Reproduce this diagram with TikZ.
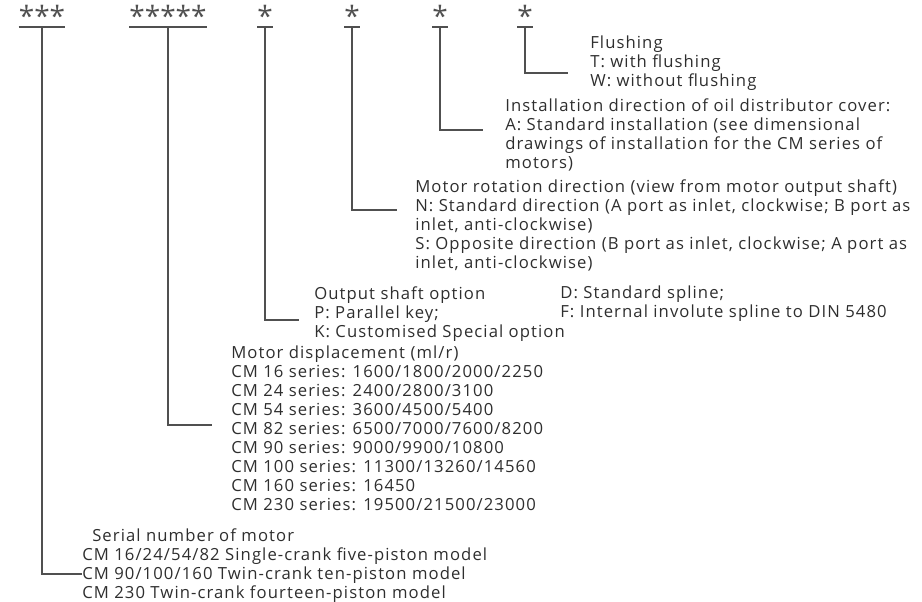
\documentclass[tikz,border=0pt]{standalone}
\usepackage{fontspec}
\setmainfont{Open Sans}[LetterSpace=6.5]
\newfontfamily\starfont{Open Sans}
\definecolor{testo}{HTML}{2E2E2E}
\definecolor{linea}{HTML}{505050}

\begin{document}
\begin{tikzpicture}[x=0.75pt,y=-0.75pt,
  stella/.style={font=\starfont\fontsize{21}{21}\selectfont,text=linea,inner sep=0pt,anchor=north},
  voce/.style={font=\fontsize{12.5}{14.25}\selectfont,text=testo,align=left,inner sep=0pt,anchor=north west},
  filo/.style={linea,line width=1.4pt}]
  \useasboundingbox (0,0) rectangle (922,602);

  % asterischi
  \node[stella] (s1) at (42,5) {***};
  \node[stella] (s2) at (168,5) {*****};
  \node[stella] (s3) at (265,5) {*};
  \node[stella] (s4) at (352,5) {*};
  \node[stella] (s5) at (440,5) {*};
  \node[stella] (s6) at (525,5) {*};

  % testi
  \node[voce] (flush) at (590,36) {Flushing\\T: with flushing\\W: without flushing};
  \node[voce] (inst) at (505,98) {Installation direction of oil distributor cover:\\
    A: Standard installation (see dimensional\\
    drawings of installation for the CM series of\\
    motors)};
  \node[voce] (rot) at (415,179) {Motor rotation direction (view from motor output shaft)\\
    N: Standard direction (A port as inlet, clockwise; B port as\\
    inlet, anti-clockwise)\\
    S: Opposite direction (B port as inlet, clockwise; A port as\\
    inlet, anti-clockwise)};
  \node[voce] (shaft) at (314,286) {Output shaft option\\P: Parallel key;\\K: Customised Special option};
  \node[voce] (spline) at (560,286) {D: Standard spline;\\F: Internal involute spline to DIN 5480};
  \node[voce] (disp) at (231,346) {Motor displacement (ml/r)\\
    CM 16 series: 1600/1800/2000/2250\\
    CM 24 series: 2400/2800/3100\\
    CM 54 series: 3600/4500/5400\\
    CM 82 series: 6500/7000/7600/8200\\
    CM 90 series: 9000/9900/10800\\
    CM 100 series: 11300/13260/14560\\
    CM 160 series: 16450\\
    CM 230 series: 19500/21500/23000};
  \node[voce] (serial) at (82,528) {\hspace*{7.5pt}Serial number of motor\\
    CM 16/24/54/82 Single-crank five-piston model\\
    CM 90/100/160 Twin-crank ten-piston model\\
    CM 230 Twin-crank fourteen-piston model};

  % sottolineature
  \coordinate (u1) at (42,27);
  \coordinate (u2) at (168,27);
  \coordinate (u3) at (265,27);
  \coordinate (u4) at (352,27);
  \coordinate (u5) at (440,27);
  \coordinate (u6) at (525,27);
  \foreach \i in {1,...,6}
    \draw[filo] (s\i.west |- u\i) -- (s\i.east |- u\i);

  % linee di richiamo
  \coordinate (e1) at (82,574);
  \coordinate (e2) at (212,425);
  \coordinate (e3) at (299,320);
  \coordinate (e4) at (397,210);
  \coordinate (e5) at (483,130);
  \coordinate (e6) at (568,73);
  \foreach \i in {1,...,6}
    \draw[filo] (u\i) |- (e\i);
\end{tikzpicture}
\end{document}
